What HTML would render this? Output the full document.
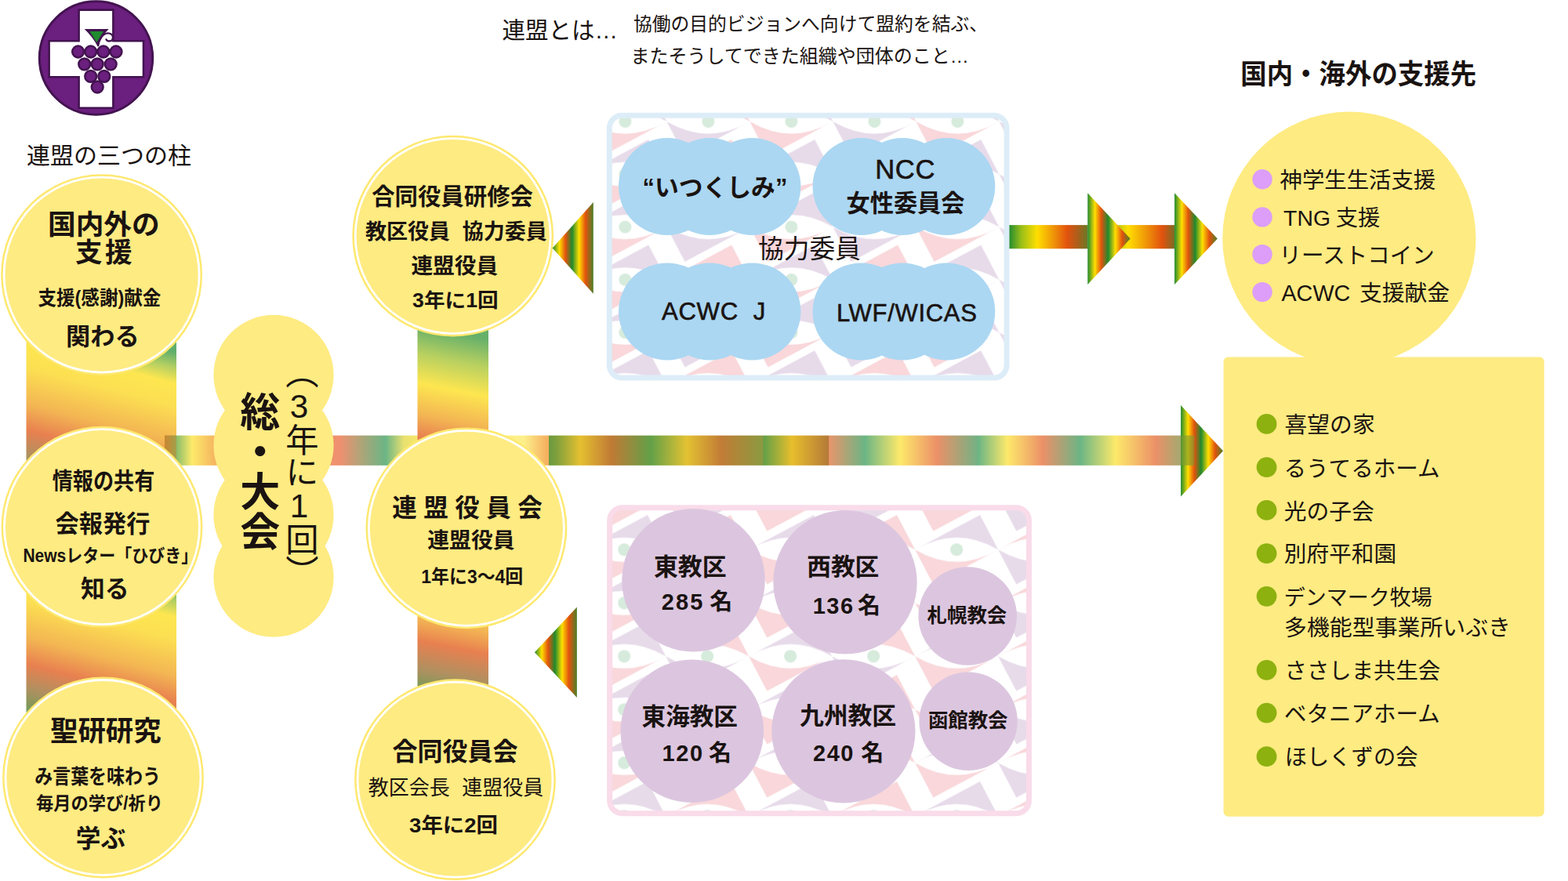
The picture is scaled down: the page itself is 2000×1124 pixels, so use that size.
<!DOCTYPE html>
<html lang="ja"><head><meta charset="utf-8"><title>連盟の三つの柱</title>
<style>html,body{margin:0;padding:0;background:#fff}body{width:2000px;height:1124px;position:relative;overflow:hidden;font-family:"Liberation Sans","Noto Sans CJK JP",sans-serif}svg{position:absolute;left:0;top:0;display:block}</style></head><body>
<svg width="2000" height="1124" viewBox="0 0 2000 1124">
<defs>
<linearGradient id="ga"><stop offset="0" stop-color="#1f8a2e"/><stop offset="0.17" stop-color="#ffde00"/><stop offset="0.32" stop-color="#e2520e"/><stop offset="0.48" stop-color="#1f8a2e"/><stop offset="0.65" stop-color="#ffde00"/><stop offset="0.81" stop-color="#e2520e"/><stop offset="1" stop-color="#4a8028"/></linearGradient>
<linearGradient id="gb2"><stop offset="0" stop-color="#1f8a2e"/><stop offset="0.16" stop-color="#9bbf18"/><stop offset="0.37" stop-color="#ffde00"/><stop offset="0.6" stop-color="#f09a08"/><stop offset="0.83" stop-color="#e2520e"/><stop offset="0.93" stop-color="#a8601c"/><stop offset="1" stop-color="#7a6e22"/></linearGradient>
<linearGradient id="gb"><stop offset="0" stop-color="#1f8a2e"/><stop offset="0.16" stop-color="#9bbf18"/><stop offset="0.36" stop-color="#ffde00"/><stop offset="0.55" stop-color="#f09a08"/><stop offset="0.74" stop-color="#e2520e"/><stop offset="0.88" stop-color="#a8601c"/><stop offset="1" stop-color="#6a7a25"/></linearGradient>
<linearGradient id="gl1" gradientUnits="userSpaceOnUse" x1="33.5" y1="400" x2="-20.57" y2="607.94"><stop offset="0" stop-color="#5fae6c"/><stop offset="0.09" stop-color="#b4cf62"/><stop offset="0.18" stop-color="#fde650"/><stop offset="0.31" stop-color="#fcdf52"/><stop offset="0.52" stop-color="#f3b553"/><stop offset="0.67" stop-color="#e88050"/><stop offset="0.81" stop-color="#b09060"/><stop offset="0.91" stop-color="#809858"/><stop offset="1" stop-color="#5fae6c"/></linearGradient>
<linearGradient id="gl2" gradientUnits="userSpaceOnUse" x1="33.5" y1="698" x2="-20.57" y2="905.94"><stop offset="0" stop-color="#5fae6c"/><stop offset="0.09" stop-color="#b4cf62"/><stop offset="0.18" stop-color="#fde650"/><stop offset="0.31" stop-color="#fcdf52"/><stop offset="0.52" stop-color="#f3b553"/><stop offset="0.67" stop-color="#e88050"/><stop offset="0.81" stop-color="#b09060"/><stop offset="0.91" stop-color="#809858"/><stop offset="1" stop-color="#5fae6c"/></linearGradient>
<linearGradient id="gm1" gradientUnits="userSpaceOnUse" x1="532.5" y1="415" x2="489.81" y2="628.46"><stop offset="0" stop-color="#66b06a"/><stop offset="0.16" stop-color="#b8d060"/><stop offset="0.33" stop-color="#fde650"/><stop offset="0.51" stop-color="#f3b553"/><stop offset="0.64" stop-color="#e88050"/><stop offset="0.8" stop-color="#b09060"/><stop offset="0.9" stop-color="#809858"/><stop offset="1" stop-color="#5fae6c"/></linearGradient>
<linearGradient id="gm2" gradientUnits="userSpaceOnUse" x1="532.5" y1="675" x2="489.81" y2="888.46"><stop offset="0" stop-color="#66b06a"/><stop offset="0.16" stop-color="#b8d060"/><stop offset="0.33" stop-color="#fde650"/><stop offset="0.51" stop-color="#f3b553"/><stop offset="0.64" stop-color="#e88050"/><stop offset="0.8" stop-color="#b09060"/><stop offset="0.9" stop-color="#809858"/><stop offset="1" stop-color="#5fae6c"/></linearGradient>
<linearGradient id="gh" gradientUnits="userSpaceOnUse" x1="210.0" y1="0" x2="1523.5" y2="0"><stop offset="0%" stop-color="#c98a3a"/><stop offset="0.46%" stop-color="#b09a48"/><stop offset="0.99%" stop-color="#7db86a"/><stop offset="2.66%" stop-color="#fdea6a"/><stop offset="4.72%" stop-color="#f5b860"/><stop offset="6.85%" stop-color="#f0a060"/><stop offset="17.05%" stop-color="#ef9070"/><stop offset="19.03%" stop-color="#b0a478"/><stop offset="21.47%" stop-color="#6bb585"/><stop offset="23.22%" stop-color="#e8e070"/><stop offset="25.12%" stop-color="#fdea6a"/><stop offset="34.87%" stop-color="#fdf08a"/><stop offset="37.15%" stop-color="#f5b060"/><stop offset="37.27%" stop-color="#f5b060"/><stop offset="37.3%" stop-color="#6a9a40"/><stop offset="38.07%" stop-color="#7fa03c"/><stop offset="40.35%" stop-color="#e5c030"/><stop offset="43.4%" stop-color="#c07a35"/><stop offset="47.2%" stop-color="#62a048"/><stop offset="50.7%" stop-color="#e3c232"/><stop offset="54.05%" stop-color="#c27c36"/><stop offset="58.09%" stop-color="#8a9a40"/><stop offset="58.17%" stop-color="#62a048"/><stop offset="60.91%" stop-color="#e8be2c"/><stop offset="64.48%" stop-color="#b47a38"/><stop offset="64.53%" stop-color="#e8956a"/><stop offset="67.99%" stop-color="#6bb585"/><stop offset="71.41%" stop-color="#fde96a"/><stop offset="74.99%" stop-color="#ec9068"/><stop offset="78.91%" stop-color="#74b283"/><stop offset="78.99%" stop-color="#6bb585"/><stop offset="81.84%" stop-color="#fde96a"/><stop offset="85.27%" stop-color="#ec9068"/><stop offset="88.92%" stop-color="#6bb585"/><stop offset="92.35%" stop-color="#fde96a"/><stop offset="96.23%" stop-color="#ec9068"/><stop offset="98.52%" stop-color="#a8a870"/><stop offset="100%" stop-color="#a0a468"/></linearGradient>
<pattern id="pt1" patternUnits="userSpaceOnUse" x="744.4" y="121.35" width="212" height="67.3"><rect width="212" height="67.3" fill="#fff"/><path d="M-106 -33.65L-23.2 -77.95L0 -33.65Q-53 -64.65 -106 -33.65Z" fill="#f9d7da"/><path d="M0 -33.65L-82.8 10.65L-106 -33.65Q-53 -2.65 0 -33.65Z" fill="#e7dbea"/><circle cx="-53" cy="-33.65" r="8" fill="#d6ebdc"/><path d="M0 -33.65L82.8 -77.95L106 -33.65Q53 -64.65 0 -33.65Z" fill="#e7dbea"/><path d="M106 -33.65L23.2 10.65L0 -33.65Q53 -2.65 106 -33.65Z" fill="#f9d7da"/><circle cx="53" cy="-33.65" r="8" fill="#d6ebdc"/><path d="M106 -33.65L188.8 -77.95L212 -33.65Q159 -64.65 106 -33.65Z" fill="#f9d7da"/><path d="M212 -33.65L129.2 10.65L106 -33.65Q159 -2.65 212 -33.65Z" fill="#e7dbea"/><circle cx="159" cy="-33.65" r="8" fill="#d6ebdc"/><path d="M212 -33.65L294.8 -77.95L318 -33.65Q265 -64.65 212 -33.65Z" fill="#e7dbea"/><path d="M318 -33.65L235.2 10.65L212 -33.65Q265 -2.65 318 -33.65Z" fill="#f9d7da"/><circle cx="265" cy="-33.65" r="8" fill="#d6ebdc"/><path d="M-106 33.65L-23.2 -10.65L0 33.65Q-53 2.65 -106 33.65Z" fill="#f9d7da"/><path d="M0 33.65L-82.8 77.95L-106 33.65Q-53 64.65 0 33.65Z" fill="#e7dbea"/><circle cx="-53" cy="33.65" r="8" fill="#d6ebdc"/><path d="M0 33.65L82.8 -10.65L106 33.65Q53 2.65 0 33.65Z" fill="#e7dbea"/><path d="M106 33.65L23.2 77.95L0 33.65Q53 64.65 106 33.65Z" fill="#f9d7da"/><circle cx="53" cy="33.65" r="8" fill="#d6ebdc"/><path d="M106 33.65L188.8 -10.65L212 33.65Q159 2.65 106 33.65Z" fill="#f9d7da"/><path d="M212 33.65L129.2 77.95L106 33.65Q159 64.65 212 33.65Z" fill="#e7dbea"/><circle cx="159" cy="33.65" r="8" fill="#d6ebdc"/><path d="M212 33.65L294.8 -10.65L318 33.65Q265 2.65 212 33.65Z" fill="#e7dbea"/><path d="M318 33.65L235.2 77.95L212 33.65Q265 64.65 318 33.65Z" fill="#f9d7da"/><circle cx="265" cy="33.65" r="8" fill="#d6ebdc"/><path d="M-106 100.95L-23.2 56.65L0 100.95Q-53 69.95 -106 100.95Z" fill="#f9d7da"/><path d="M0 100.95L-82.8 145.25L-106 100.95Q-53 131.95 0 100.95Z" fill="#e7dbea"/><circle cx="-53" cy="100.95" r="8" fill="#d6ebdc"/><path d="M0 100.95L82.8 56.65L106 100.95Q53 69.95 0 100.95Z" fill="#e7dbea"/><path d="M106 100.95L23.2 145.25L0 100.95Q53 131.95 106 100.95Z" fill="#f9d7da"/><circle cx="53" cy="100.95" r="8" fill="#d6ebdc"/><path d="M106 100.95L188.8 56.65L212 100.95Q159 69.95 106 100.95Z" fill="#f9d7da"/><path d="M212 100.95L129.2 145.25L106 100.95Q159 131.95 212 100.95Z" fill="#e7dbea"/><circle cx="159" cy="100.95" r="8" fill="#d6ebdc"/><path d="M212 100.95L294.8 56.65L318 100.95Q265 69.95 212 100.95Z" fill="#e7dbea"/><path d="M318 100.95L235.2 145.25L212 100.95Q265 131.95 318 100.95Z" fill="#f9d7da"/><circle cx="265" cy="100.95" r="8" fill="#d6ebdc"/><path d="M-106 168.25L-23.2 123.95L0 168.25Q-53 137.25 -106 168.25Z" fill="#f9d7da"/><path d="M0 168.25L-82.8 212.55L-106 168.25Q-53 199.25 0 168.25Z" fill="#e7dbea"/><circle cx="-53" cy="168.25" r="8" fill="#d6ebdc"/><path d="M0 168.25L82.8 123.95L106 168.25Q53 137.25 0 168.25Z" fill="#e7dbea"/><path d="M106 168.25L23.2 212.55L0 168.25Q53 199.25 106 168.25Z" fill="#f9d7da"/><circle cx="53" cy="168.25" r="8" fill="#d6ebdc"/><path d="M106 168.25L188.8 123.95L212 168.25Q159 137.25 106 168.25Z" fill="#f9d7da"/><path d="M212 168.25L129.2 212.55L106 168.25Q159 199.25 212 168.25Z" fill="#e7dbea"/><circle cx="159" cy="168.25" r="8" fill="#d6ebdc"/><path d="M212 168.25L294.8 123.95L318 168.25Q265 137.25 212 168.25Z" fill="#e7dbea"/><path d="M318 168.25L235.2 212.55L212 168.25Q265 199.25 318 168.25Z" fill="#f9d7da"/><circle cx="265" cy="168.25" r="8" fill="#d6ebdc"/></pattern>
<pattern id="pt2" patternUnits="userSpaceOnUse" x="743.2" y="667.3" width="212" height="68"><rect width="212" height="68" fill="#fff"/><path d="M-106 -34L-23.2 -78.3L0 -34Q-53 -65 -106 -34Z" fill="#f9d7da"/><path d="M0 -34L-82.8 10.3L-106 -34Q-53 -3 0 -34Z" fill="#e7dbea"/><circle cx="-53" cy="-34" r="8" fill="#d6ebdc"/><path d="M0 -34L82.8 -78.3L106 -34Q53 -65 0 -34Z" fill="#e7dbea"/><path d="M106 -34L23.2 10.3L0 -34Q53 -3 106 -34Z" fill="#f9d7da"/><circle cx="53" cy="-34" r="8" fill="#d6ebdc"/><path d="M106 -34L188.8 -78.3L212 -34Q159 -65 106 -34Z" fill="#f9d7da"/><path d="M212 -34L129.2 10.3L106 -34Q159 -3 212 -34Z" fill="#e7dbea"/><circle cx="159" cy="-34" r="8" fill="#d6ebdc"/><path d="M212 -34L294.8 -78.3L318 -34Q265 -65 212 -34Z" fill="#e7dbea"/><path d="M318 -34L235.2 10.3L212 -34Q265 -3 318 -34Z" fill="#f9d7da"/><circle cx="265" cy="-34" r="8" fill="#d6ebdc"/><path d="M-106 34L-23.2 -10.3L0 34Q-53 3 -106 34Z" fill="#f9d7da"/><path d="M0 34L-82.8 78.3L-106 34Q-53 65 0 34Z" fill="#e7dbea"/><circle cx="-53" cy="34" r="8" fill="#d6ebdc"/><path d="M0 34L82.8 -10.3L106 34Q53 3 0 34Z" fill="#e7dbea"/><path d="M106 34L23.2 78.3L0 34Q53 65 106 34Z" fill="#f9d7da"/><circle cx="53" cy="34" r="8" fill="#d6ebdc"/><path d="M106 34L188.8 -10.3L212 34Q159 3 106 34Z" fill="#f9d7da"/><path d="M212 34L129.2 78.3L106 34Q159 65 212 34Z" fill="#e7dbea"/><circle cx="159" cy="34" r="8" fill="#d6ebdc"/><path d="M212 34L294.8 -10.3L318 34Q265 3 212 34Z" fill="#e7dbea"/><path d="M318 34L235.2 78.3L212 34Q265 65 318 34Z" fill="#f9d7da"/><circle cx="265" cy="34" r="8" fill="#d6ebdc"/><path d="M-106 102L-23.2 57.7L0 102Q-53 71 -106 102Z" fill="#f9d7da"/><path d="M0 102L-82.8 146.3L-106 102Q-53 133 0 102Z" fill="#e7dbea"/><circle cx="-53" cy="102" r="8" fill="#d6ebdc"/><path d="M0 102L82.8 57.7L106 102Q53 71 0 102Z" fill="#e7dbea"/><path d="M106 102L23.2 146.3L0 102Q53 133 106 102Z" fill="#f9d7da"/><circle cx="53" cy="102" r="8" fill="#d6ebdc"/><path d="M106 102L188.8 57.7L212 102Q159 71 106 102Z" fill="#f9d7da"/><path d="M212 102L129.2 146.3L106 102Q159 133 212 102Z" fill="#e7dbea"/><circle cx="159" cy="102" r="8" fill="#d6ebdc"/><path d="M212 102L294.8 57.7L318 102Q265 71 212 102Z" fill="#e7dbea"/><path d="M318 102L235.2 146.3L212 102Q265 133 318 102Z" fill="#f9d7da"/><circle cx="265" cy="102" r="8" fill="#d6ebdc"/><path d="M-106 170L-23.2 125.7L0 170Q-53 139 -106 170Z" fill="#f9d7da"/><path d="M0 170L-82.8 214.3L-106 170Q-53 201 0 170Z" fill="#e7dbea"/><circle cx="-53" cy="170" r="8" fill="#d6ebdc"/><path d="M0 170L82.8 125.7L106 170Q53 139 0 170Z" fill="#e7dbea"/><path d="M106 170L23.2 214.3L0 170Q53 201 106 170Z" fill="#f9d7da"/><circle cx="53" cy="170" r="8" fill="#d6ebdc"/><path d="M106 170L188.8 125.7L212 170Q159 139 106 170Z" fill="#f9d7da"/><path d="M212 170L129.2 214.3L106 170Q159 201 212 170Z" fill="#e7dbea"/><circle cx="159" cy="170" r="8" fill="#d6ebdc"/><path d="M212 170L294.8 125.7L318 170Q265 139 212 170Z" fill="#e7dbea"/><path d="M318 170L235.2 214.3L212 170Q265 201 318 170Z" fill="#f9d7da"/><circle cx="265" cy="170" r="8" fill="#d6ebdc"/></pattern>
</defs>
<rect width="2000" height="1124" fill="#fff"/>
<rect x="33.5" y="349" width="191.5" height="323" fill="url(#gl1)"/>
<rect x="33.5" y="672" width="191.5" height="318" fill="url(#gl2)"/>
<rect x="210" y="555.6" width="1313.5" height="38.2" fill="url(#gh)"/>
<rect x="210" y="555.6" width="15" height="38.2" fill="#c8862e" opacity=".55"/>
<rect x="532.5" y="296" width="90.5" height="377" fill="url(#gm1)"/>
<rect x="532.5" y="673" width="90.5" height="323" fill="url(#gm2)"/>
<circle cx="129.6" cy="350.6" r="128.4" fill="#FEE86E"/>
<circle cx="129.6" cy="350.6" r="125.9" fill="#fff"/>
<circle cx="129.6" cy="350.6" r="123.1" fill="#FEEB82"/>
<circle cx="130" cy="672.2" r="128.4" fill="#FEE86E"/>
<circle cx="130" cy="672.2" r="125.9" fill="#fff"/>
<circle cx="130" cy="672.2" r="123.1" fill="#FEEB82"/>
<circle cx="131.5" cy="992" r="128.4" fill="#FEE86E"/>
<circle cx="131.5" cy="992" r="125.9" fill="#fff"/>
<circle cx="131.5" cy="992" r="123.1" fill="#FEEB82"/>
<circle cx="349" cy="478.4" r="76.6" fill="#FEEB82"/>
<circle cx="349" cy="568" r="76.6" fill="#FEEB82"/>
<circle cx="349" cy="657" r="76.6" fill="#FEEB82"/>
<circle cx="349" cy="736.2" r="76.6" fill="#FEEB82"/>
<circle cx="577.7" cy="301.1" r="128.4" fill="#FEE86E"/>
<circle cx="577.7" cy="301.1" r="125.9" fill="#fff"/>
<circle cx="577.7" cy="301.1" r="123.1" fill="#FEEB82"/>
<circle cx="594.9" cy="673.8" r="128.4" fill="#FEE86E"/>
<circle cx="594.9" cy="673.8" r="125.9" fill="#fff"/>
<circle cx="594.9" cy="673.8" r="123.1" fill="#FEEB82"/>
<circle cx="580.5" cy="994.7" r="128.4" fill="#FEE86E"/>
<circle cx="580.5" cy="994.7" r="125.9" fill="#fff"/>
<circle cx="580.5" cy="994.7" r="123.1" fill="#FEEB82"/>
<path d="M1506.1 517.1L1560.1 575.3L1506.1 633.5Z" fill="url(#ga)"/>
<rect x="1506.1" y="555.6" width="17.4" height="38.2" fill="#7d9a32" opacity=".62"/>
<path d="M756.8 258L704.7 316.4L756.8 374.8Z" fill="url(#ga)"/>
<path d="M735.9 774.6L681.9 832.35L735.9 890.1Z" fill="url(#ga)"/>
<rect x="1286.7" y="287.1" width="100.8" height="30.2" fill="url(#gb)"/>
<rect x="1404" y="287.1" width="94.3" height="30.2" fill="url(#gb2)"/>
<path d="M1387.3 246.3L1441.7 304.6L1387.3 362.9Z" fill="url(#ga)"/>
<path d="M1498.1 246.3L1552.9 304.6L1498.1 362.9Z" fill="url(#ga)"/>
<rect x="777.3" y="147.3" width="506.7" height="334.8" rx="16" fill="url(#pt1)" stroke="#ddedf8" stroke-width="7"/>
<circle cx="851" cy="238" r="62" fill="#abd7f2"/>
<circle cx="905.2" cy="238" r="62" fill="#abd7f2"/>
<circle cx="959.4" cy="238" r="62" fill="#abd7f2"/>
<circle cx="1098.5" cy="238" r="62" fill="#abd7f2"/>
<circle cx="1151" cy="238" r="62" fill="#abd7f2"/>
<circle cx="1207.3" cy="238" r="62" fill="#abd7f2"/>
<circle cx="851" cy="397.4" r="62" fill="#abd7f2"/>
<circle cx="905.2" cy="397.4" r="62" fill="#abd7f2"/>
<circle cx="959.4" cy="397.4" r="62" fill="#abd7f2"/>
<circle cx="1098.5" cy="397.4" r="62" fill="#abd7f2"/>
<circle cx="1151" cy="397.4" r="62" fill="#abd7f2"/>
<circle cx="1207.3" cy="397.4" r="62" fill="#abd7f2"/>
<rect x="777.7" y="647.7" width="534.7" height="390" rx="16" fill="url(#pt2)" stroke="#f9dbe9" stroke-width="7"/>
<circle cx="884.5" cy="740.2" r="91.3" fill="#dcc6df"/>
<circle cx="1078" cy="742.8" r="91.7" fill="#dcc6df"/>
<circle cx="1234.2" cy="786" r="62.8" fill="#dcc6df"/>
<circle cx="882.8" cy="932.8" r="91.3" fill="#dcc6df"/>
<circle cx="1075.9" cy="932.8" r="91.6" fill="#dcc6df"/>
<circle cx="1235.1" cy="920.2" r="62.7" fill="#dcc6df"/>
<circle cx="1720.9" cy="304.2" r="161.6" fill="#FEEB82"/>
<rect x="1560.6" y="455.4" width="409" height="586.4" rx="6" fill="#FEEB82"/>
<circle cx="1610.1" cy="228.8" r="12.7" fill="#dc9ef8"/>
<circle cx="1610.1" cy="276.9" r="12.7" fill="#dc9ef8"/>
<circle cx="1610.1" cy="324.6" r="12.7" fill="#dc9ef8"/>
<circle cx="1610.1" cy="372.6" r="12.7" fill="#dc9ef8"/>
<circle cx="1615.6" cy="540.9" r="12.9" fill="#8db10f"/>
<circle cx="1615.6" cy="596.1" r="12.9" fill="#8db10f"/>
<circle cx="1615.6" cy="650.9" r="12.9" fill="#8db10f"/>
<circle cx="1615.6" cy="706.1" r="12.9" fill="#8db10f"/>
<circle cx="1615.6" cy="760.9" r="12.9" fill="#8db10f"/>
<circle cx="1615.6" cy="854.8" r="12.9" fill="#8db10f"/>
<circle cx="1615.6" cy="909.6" r="12.9" fill="#8db10f"/>
<circle cx="1615.6" cy="965.2" r="12.9" fill="#8db10f"/>
<circle cx="122.5" cy="74" r="72.2" fill="#6b1f7e" stroke="#431350" stroke-width="3"/>
<path d="M100.6 12.6H144.4V52.3H183V98.3H144.4V137.8H100.6V98.3H62.6V52.3H100.6Z" fill="#fff" stroke="#431350" stroke-width="2.6"/>
<circle cx="99.6" cy="66" r="7.4" fill="#6b1f7e" stroke="#431350" stroke-width="2.5"/>
<circle cx="115.7" cy="66" r="7.4" fill="#6b1f7e" stroke="#431350" stroke-width="2.5"/>
<circle cx="131.9" cy="66" r="7.4" fill="#6b1f7e" stroke="#431350" stroke-width="2.5"/>
<circle cx="148" cy="66" r="7.4" fill="#6b1f7e" stroke="#431350" stroke-width="2.5"/>
<circle cx="107.7" cy="81.8" r="7.4" fill="#6b1f7e" stroke="#431350" stroke-width="2.5"/>
<circle cx="124.2" cy="81.8" r="7.4" fill="#6b1f7e" stroke="#431350" stroke-width="2.5"/>
<circle cx="141.2" cy="81.8" r="7.4" fill="#6b1f7e" stroke="#431350" stroke-width="2.5"/>
<circle cx="115.7" cy="97.3" r="7.4" fill="#6b1f7e" stroke="#431350" stroke-width="2.5"/>
<circle cx="132.8" cy="97.3" r="7.4" fill="#6b1f7e" stroke="#431350" stroke-width="2.5"/>
<circle cx="124.2" cy="111" r="7.4" fill="#6b1f7e" stroke="#431350" stroke-width="2.5"/>
<path d="M107.7 37.1H138.7Q128 48 124.6 59.5Q119 48 107.7 37.1Z" fill="#431350"/>
<path d="M114.4 40H132.2L123.2 54Z" fill="#1f8a2e"/>
<path d="M125.3 58C126.5 50 131 42.6 137.6 42.3C142.6 42.1 145 46.2 143.6 49.8C142.2 53.2 137 53.4 135.4 50.2" fill="none" stroke="#431350" stroke-width="2.3" stroke-linecap="round"/>
<g id="txt" font-family="'Liberation Sans','Noto Sans CJK JP',sans-serif" fill="#1a1311">
<text x="33.9" y="208.8" font-size="30">連盟の三つの柱</text>
<text x="61" y="298.9" font-size="35.7" font-weight="bold">国内外の</text>
<text x="95.9" y="334.3" font-size="34.6" font-weight="bold" letter-spacing="3.5">支援</text>
<text x="48.4" y="389.4" font-size="25" font-weight="bold" textLength="157" lengthAdjust="spacingAndGlyphs">支援(感謝)献金</text>
<text x="84.1" y="440.4" font-size="31.2" font-weight="bold">関わる</text>
<text x="66.7" y="624.4" font-size="30" font-weight="bold" textLength="130.6" lengthAdjust="spacingAndGlyphs">情報の共有</text>
<text x="70.6" y="678.6" font-size="30.2" font-weight="bold">会報発行</text>
<text x="29.4" y="717.2" font-size="23" font-weight="bold" textLength="223" lengthAdjust="spacingAndGlyphs">Newsレター「ひびき」</text>
<text x="102.9" y="761.7" font-size="30.8" font-weight="bold">知る</text>
<text x="64" y="945.4" font-size="35.4" font-weight="bold">聖研研究</text>
<text x="44.2" y="1000.3" font-size="26" font-weight="bold" textLength="160.8" lengthAdjust="spacingAndGlyphs">み言葉を味わう</text>
<text x="46" y="1032.6" font-size="23" font-weight="bold" textLength="162" lengthAdjust="spacingAndGlyphs">毎月の学び/祈り</text>
<text x="96.8" y="1080.5" font-size="31.7" font-weight="bold">学ぶ</text>
<text x="327.3" y="499" font-size="51" font-weight="bold" style="writing-mode:vertical-rl">総・大会</text>
<text x="381.4" y="454" font-size="42.3" textLength="296" style="writing-mode:vertical-rl;text-orientation:upright">（3年に1回）</text>
<text x="474.2" y="260.7" font-size="29.4" font-weight="bold">合同役員研修会</text>
<text y="305.1" font-size="27" font-weight="bold"><tspan x="465.9">教区役員</tspan> <tspan x="589.7">協力委員</tspan></text>
<text x="524.4" y="348.7" font-size="27.7" font-weight="bold">連盟役員</text>
<text x="526.1" y="391.7" font-size="25" font-weight="bold" textLength="109.5" lengthAdjust="spacingAndGlyphs">3年に1回</text>
<text x="500.2" y="659.4" font-size="31.5" font-weight="bold" letter-spacing="8.5">連盟役員会</text>
<text x="545.3" y="699.3" font-size="27" font-weight="bold" textLength="111.3" lengthAdjust="spacingAndGlyphs">連盟役員</text>
<text x="537.3" y="743.6" font-size="24" font-weight="bold" textLength="130" lengthAdjust="spacingAndGlyphs">1年に3〜4回</text>
<text x="500.5" y="970.2" font-size="32" font-weight="bold">合同役員会</text>
<text y="1014.2" font-size="26"><tspan x="469.8">教区会長</tspan> <tspan x="589.3">連盟役員</tspan></text>
<text x="522.1" y="1061.9" font-size="25.6" font-weight="bold" textLength="113" lengthAdjust="spacingAndGlyphs">3年に2回</text>
<text x="640.4" y="48.9" font-size="29.5">連盟とは…</text>
<text x="807.9" y="39.2" font-size="23.8">協働の目的ビジョンへ向けて盟約を結ぶ、</text>
<text x="804.4" y="80.4" font-size="24">またそうしてできた組織や団体のこと…</text>
<text x="1582.2" y="106.6" font-size="35" font-weight="bold" textLength="301" lengthAdjust="spacingAndGlyphs">国内・海外の支援先</text>
<text x="819.5" y="250.2" font-size="30.8" font-weight="bold">“いつくしみ”</text>
<text x="1116.2" y="227.5" font-size="34.6" letter-spacing="0.7" stroke="#1a1311" stroke-width="0.6">NCC</text>
<text x="1079.5" y="270.3" font-size="30.2" font-weight="bold">女性委員会</text>
<text x="967.1" y="328.8" font-size="32.7">協力委員</text>
<text y="407.5" font-size="31.2" letter-spacing="0.6" stroke="#1a1311" stroke-width="0.6"><tspan x="844.1">ACWC</tspan> <tspan x="960.7">J</tspan></text>
<text x="1066.9" y="409.7" font-size="31" letter-spacing="0.7" stroke="#1a1311" stroke-width="0.6">LWF/WICAS</text>
<text x="833.9" y="733.6" font-size="30.9" font-weight="bold">東教区</text>
<text y="778.4" font-size="29" font-weight="bold"><tspan x="843.7" letter-spacing="2.1">285</tspan> <tspan x="905.2">名</tspan></text>
<text x="1029.2" y="733.8" font-size="30.7" font-weight="bold">西教区</text>
<text y="782.9" font-size="29" font-weight="bold"><tspan x="1036.7" letter-spacing="1.5">136</tspan> <tspan x="1094.1">名</tspan></text>
<text x="1182.6" y="794" font-size="25.4" font-weight="bold">札幌教会</text>
<text x="818.6" y="924.7" font-size="30.6" font-weight="bold">東海教区</text>
<text y="971.3" font-size="29" font-weight="bold"><tspan x="844.6" letter-spacing="1.6">120</tspan> <tspan x="903.9">名</tspan></text>
<text x="1019.9" y="924.4" font-size="30.8" font-weight="bold">九州教区</text>
<text y="971.4" font-size="29" font-weight="bold"><tspan x="1037.1" letter-spacing="1.5">240</tspan> <tspan x="1098.3">名</tspan></text>
<text x="1183.9" y="928" font-size="25.4" font-weight="bold">函館教会</text>
<text x="1632.5" y="240.2" font-size="28.4">神学生生活支援</text>
<text y="287.6" font-size="28.4"><tspan x="1637.1">TNG</tspan> <tspan x="1703.7">支援</tspan></text>
<text x="1631.6" y="335.6" font-size="28.5">リーストコイン</text>
<text y="383.8" font-size="28.8"><tspan x="1634.4">ACWC</tspan> <tspan x="1733.9">支援献金</tspan></text>
<text x="1638.5" y="552.2" font-size="28.8">喜望の家</text>
<text x="1637.4" y="607.5" font-size="28.6">るうてるホーム</text>
<text x="1637.7" y="662.6" font-size="28.8">光の子会</text>
<text x="1637.8" y="717.1" font-size="28.7">別府平和園</text>
<text x="1637.8" y="772" font-size="27">デンマーク牧場</text>
<text x="1638.1" y="811" font-size="28.9">多機能型事業所いぶき</text>
<text x="1638.5" y="866.3" font-size="28.4">ささしま共生会</text>
<text x="1638.1" y="921.4" font-size="28.5">ベタニアホーム</text>
<text x="1638.7" y="976" font-size="28.3">ほしくずの会</text>
</g>
</svg>
</body></html>
